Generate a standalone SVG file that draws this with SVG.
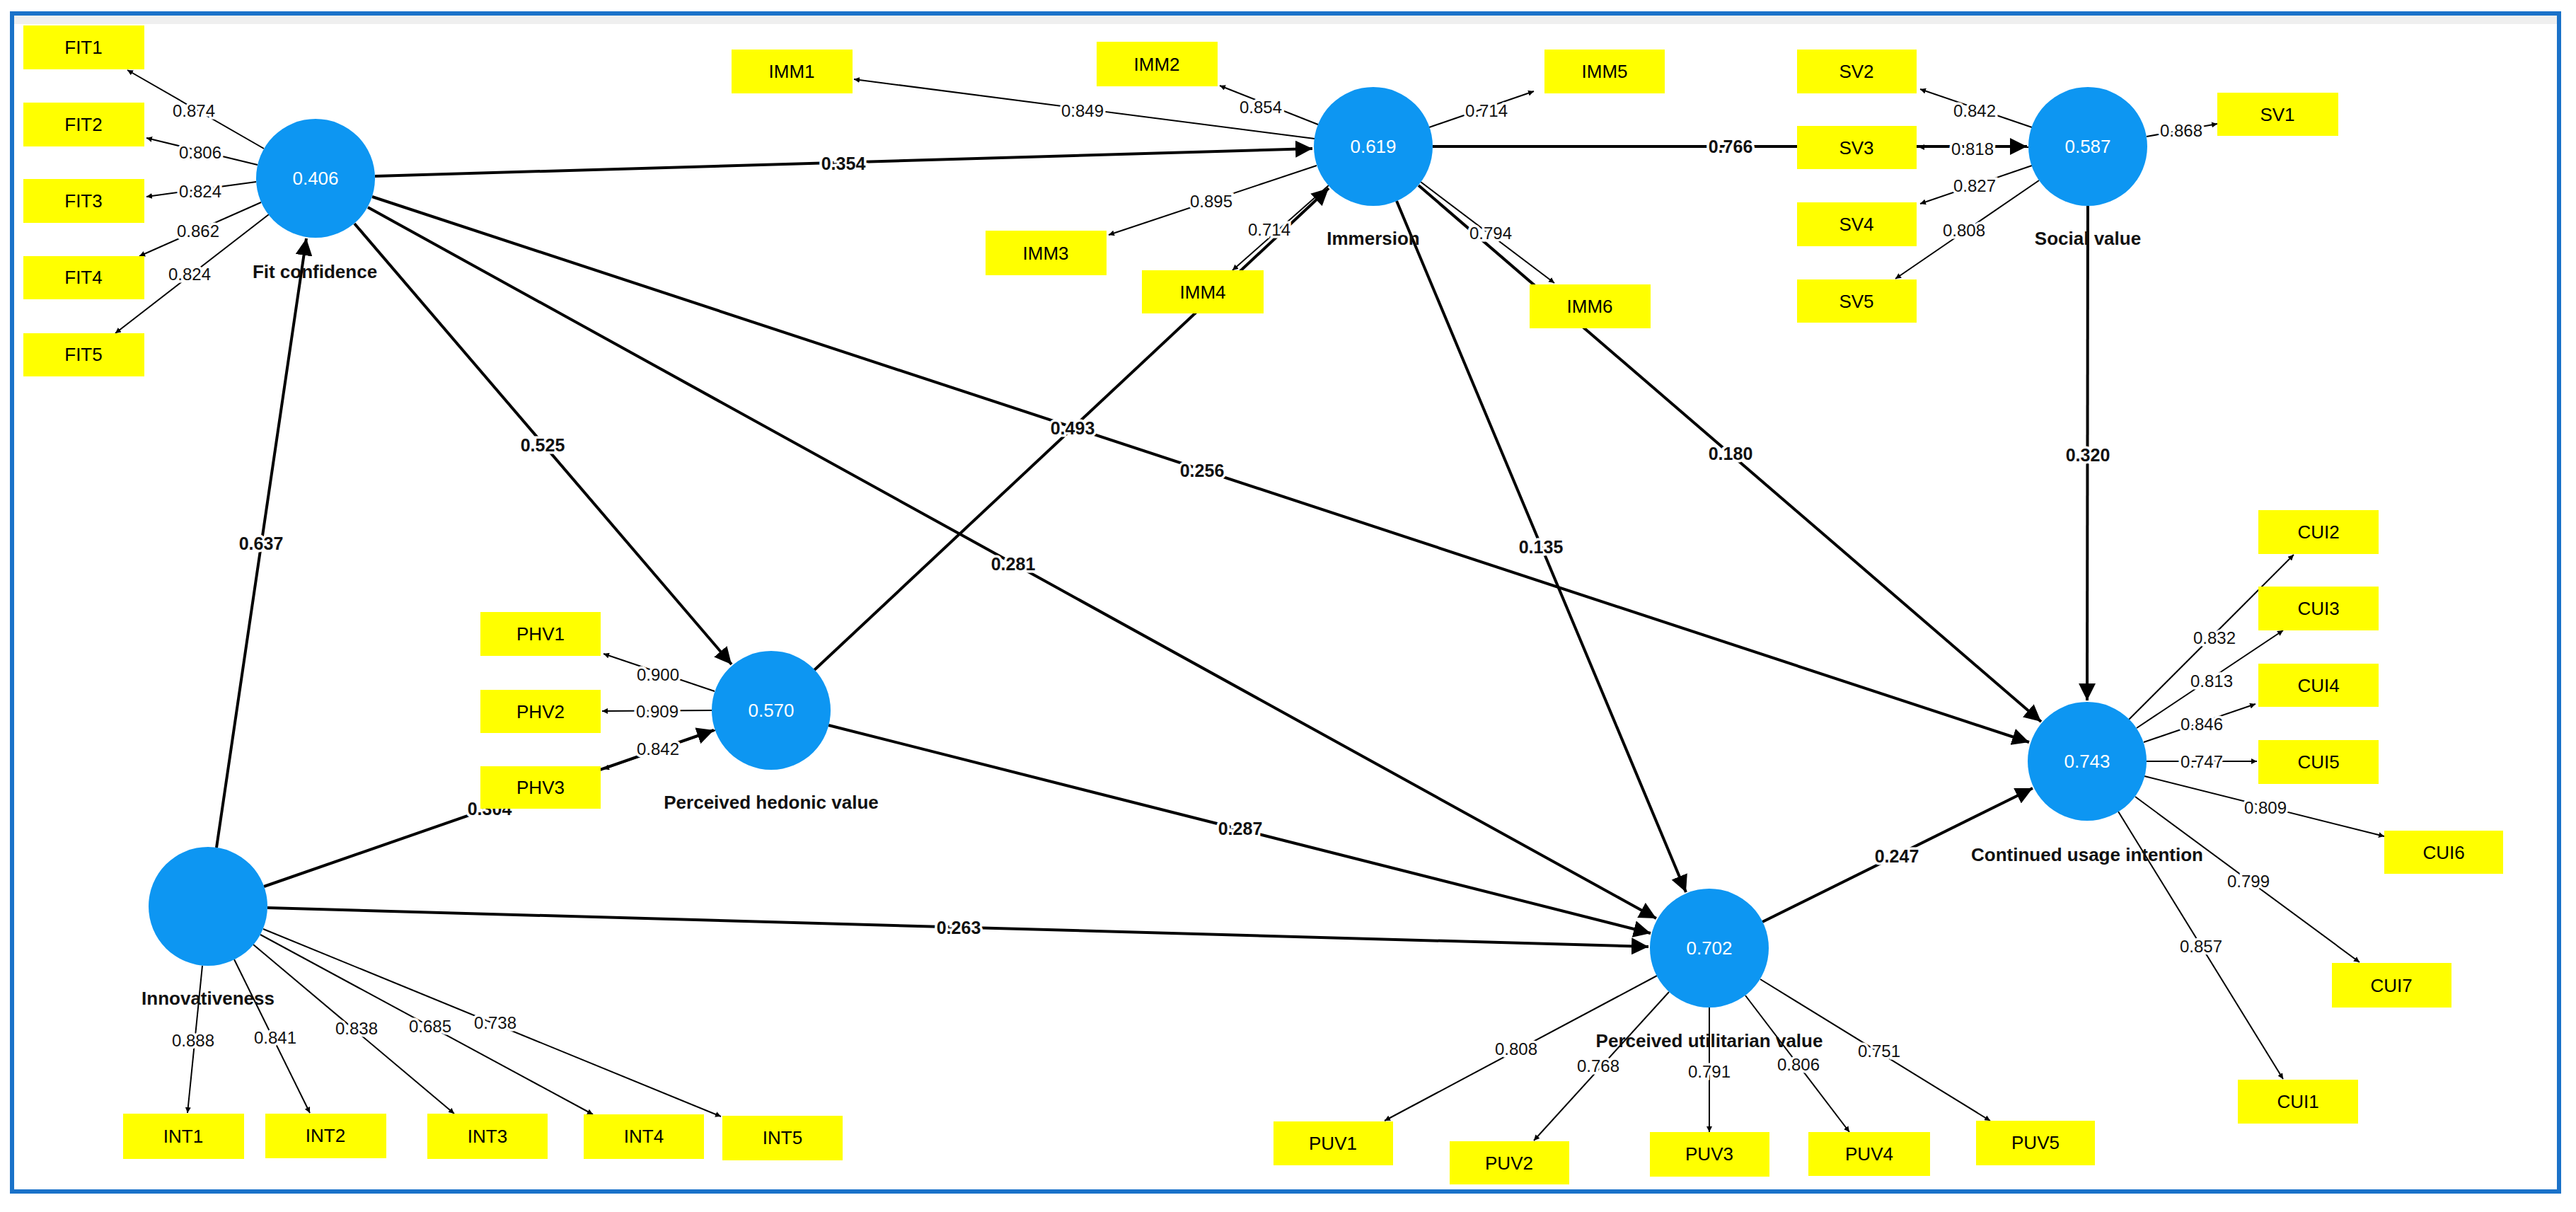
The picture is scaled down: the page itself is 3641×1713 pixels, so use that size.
<svg xmlns="http://www.w3.org/2000/svg" width="3641" height="1713" viewBox="0 0 3641 1713">
<style>
.bx{fill:#ffff00}
.bt{font-family:"Liberation Sans",Arial,sans-serif;font-size:26px;fill:#000;text-anchor:middle;dominant-baseline:central}
.cc{fill:#0d96f2}
.ct{font-family:"Liberation Sans",Arial,sans-serif;font-size:26px;fill:#fff;text-anchor:middle;dominant-baseline:central}
.nl{font-family:"Liberation Sans",Arial,sans-serif;font-size:26px;font-weight:bold;fill:#111;text-anchor:middle;dominant-baseline:central}
.ld{stroke:#000;stroke-width:2;fill:none;marker-end:url(#a)}
.st{stroke:#000;stroke-width:4;fill:none;marker-end:url(#b)}
.lv{font-family:"Liberation Sans",Arial,sans-serif;font-size:24px;fill:#111;text-anchor:middle;dominant-baseline:central;stroke:#fff;stroke-width:7;paint-order:stroke}
.sv{font-family:"Liberation Sans",Arial,sans-serif;font-size:25px;font-weight:bold;fill:#111;text-anchor:middle;dominant-baseline:central;stroke:#fff;stroke-width:7;paint-order:stroke}
</style>
<defs>
<marker id="a" viewBox="0 0 10 10" refX="10" refY="5" markerWidth="8" markerHeight="8" markerUnits="userSpaceOnUse" orient="auto"><path d="M0,0L10,5L0,10z"/></marker>
<marker id="b" viewBox="0 0 10 10" refX="10" refY="5" markerWidth="6" markerHeight="6" orient="auto"><path d="M0,0L10,5L0,10z"/></marker>
</defs>
<rect x="0" y="0" width="3641" height="1713" fill="#fff"/>
<rect x="17" y="19" width="3600" height="1665" fill="none" stroke="#1a72c9" stroke-width="6"/>
<rect x="20" y="22" width="3594" height="12" fill="#efefef"/>
<g id="connectors">
<line class="st" x1="306" y1="1198" x2="433" y2="337"/>
<line class="st" x1="373" y1="1253" x2="1009" y2="1032"/>
<line class="st" x1="378" y1="1283" x2="2330" y2="1338"/>
<line class="st" x1="530" y1="249" x2="1855" y2="210"/>
<line class="st" x1="501" y1="316" x2="1034" y2="939"/>
<line class="st" x1="520" y1="293" x2="2341" y2="1298"/>
<line class="st" x1="526" y1="278" x2="2868" y2="1049"/>
<line class="st" x1="1151" y1="947" x2="1878" y2="266"/>
<line class="st" x1="1171" y1="1025" x2="2333" y2="1319"/>
<line class="st" x1="2025" y1="207" x2="2865" y2="207"/>
<line class="st" x1="1974" y1="284" x2="2383" y2="1261"/>
<line class="st" x1="2005" y1="262" x2="2885" y2="1020"/>
<line class="st" x1="2951" y1="291" x2="2950" y2="990"/>
<line class="st" x1="2491" y1="1303" x2="2873" y2="1114"/>
<line class="ld" x1="373" y1="210" x2="180" y2="99"/>
<line class="ld" x1="364" y1="233" x2="207" y2="195"/>
<line class="ld" x1="362" y1="257" x2="207" y2="278"/>
<line class="ld" x1="369" y1="286" x2="197" y2="362"/>
<line class="ld" x1="380" y1="303" x2="163" y2="471"/>
<line class="ld" x1="1858" y1="196" x2="1207" y2="112"/>
<line class="ld" x1="1863" y1="176" x2="1724" y2="121"/>
<line class="ld" x1="1861" y1="234" x2="1567" y2="332"/>
<line class="ld" x1="1878" y1="262" x2="1742" y2="382"/>
<line class="ld" x1="2020" y1="180" x2="2168" y2="129"/>
<line class="ld" x1="2008" y1="257" x2="2197" y2="400"/>
<line class="ld" x1="2872" y1="180" x2="2714" y2="126"/>
<line class="ld" x1="2867" y1="208" x2="2712" y2="208"/>
<line class="ld" x1="2872" y1="234" x2="2714" y2="288"/>
<line class="ld" x1="2882" y1="255" x2="2679" y2="394"/>
<line class="ld" x1="3034" y1="193" x2="3134" y2="175"/>
<line class="ld" x1="1010" y1="977" x2="853" y2="924"/>
<line class="ld" x1="1006" y1="1004" x2="851" y2="1005"/>
<line class="ld" x1="1011" y1="1032" x2="853" y2="1087"/>
<line class="ld" x1="286" y1="1365" x2="265" y2="1573"/>
<line class="ld" x1="331" y1="1356" x2="438" y2="1573"/>
<line class="ld" x1="358" y1="1335" x2="642" y2="1574"/>
<line class="ld" x1="368" y1="1321" x2="838" y2="1575"/>
<line class="ld" x1="372" y1="1313" x2="1019" y2="1578"/>
<line class="ld" x1="2342" y1="1379" x2="1957" y2="1584"/>
<line class="ld" x1="2359" y1="1402" x2="2168" y2="1612"/>
<line class="ld" x1="2416" y1="1424" x2="2416" y2="1600"/>
<line class="ld" x1="2467" y1="1407" x2="2614" y2="1600"/>
<line class="ld" x1="2488" y1="1384" x2="2813" y2="1584"/>
<line class="ld" x1="3009" y1="1017" x2="3242" y2="784"/>
<line class="ld" x1="3020" y1="1029" x2="3227" y2="891"/>
<line class="ld" x1="3030" y1="1049" x2="3188" y2="995"/>
<line class="ld" x1="3034" y1="1076" x2="3190" y2="1076"/>
<line class="ld" x1="3031" y1="1097" x2="3370" y2="1182"/>
<line class="ld" x1="3018" y1="1126" x2="3335" y2="1360"/>
<line class="ld" x1="2994" y1="1147" x2="3227" y2="1525"/>
</g>
<g id="labels">
<text class="sv" x="369" y="768">0.637</text>
<text class="sv" x="692" y="1143">0.304</text>
<text class="sv" x="1355" y="1311">0.263</text>
<text class="sv" x="1192" y="231">0.354</text>
<text class="sv" x="767" y="629">0.525</text>
<text class="sv" x="1432" y="797">0.281</text>
<text class="sv" x="1699" y="665">0.256</text>
<text class="sv" x="1516" y="605">0.493</text>
<text class="sv" x="1753" y="1171">0.287</text>
<text class="sv" x="2446" y="207">0.766</text>
<text class="sv" x="2178" y="773">0.135</text>
<text class="sv" x="2446" y="641">0.180</text>
<text class="sv" x="2951" y="643">0.320</text>
<text class="sv" x="2681" y="1210">0.247</text>
<text class="lv" x="274" y="156">0.874</text>
<text class="lv" x="283" y="215">0.806</text>
<text class="lv" x="283" y="270">0.824</text>
<text class="lv" x="280" y="326">0.862</text>
<text class="lv" x="268" y="387">0.824</text>
<text class="lv" x="1530" y="156">0.849</text>
<text class="lv" x="1782" y="151">0.854</text>
<text class="lv" x="1712" y="284">0.895</text>
<text class="lv" x="1794" y="324">0.714</text>
<text class="lv" x="2101" y="156">0.714</text>
<text class="lv" x="2107" y="329">0.794</text>
<text class="lv" x="2791" y="156">0.842</text>
<text class="lv" x="2788" y="210">0.818</text>
<text class="lv" x="2791" y="262">0.827</text>
<text class="lv" x="2776" y="325">0.808</text>
<text class="lv" x="3083" y="184">0.868</text>
<text class="lv" x="930" y="953">0.900</text>
<text class="lv" x="929" y="1005">0.909</text>
<text class="lv" x="930" y="1058">0.842</text>
<text class="lv" x="273" y="1470">0.888</text>
<text class="lv" x="389" y="1466">0.841</text>
<text class="lv" x="504" y="1453">0.838</text>
<text class="lv" x="608" y="1450">0.685</text>
<text class="lv" x="700" y="1445">0.738</text>
<text class="lv" x="2143" y="1482">0.808</text>
<text class="lv" x="2259" y="1506">0.768</text>
<text class="lv" x="2416" y="1514">0.791</text>
<text class="lv" x="2542" y="1504">0.806</text>
<text class="lv" x="2656" y="1485">0.751</text>
<text class="lv" x="3130" y="901">0.832</text>
<text class="lv" x="3126" y="962">0.813</text>
<text class="lv" x="3112" y="1023">0.846</text>
<text class="lv" x="3112" y="1076">0.747</text>
<text class="lv" x="3202" y="1141">0.809</text>
<text class="lv" x="3178" y="1245">0.799</text>
<text class="lv" x="3111" y="1337">0.857</text>
</g>
<g id="FIT1"><rect class="bx" x="33" y="36" width="171" height="62"/><text class="bt" x="118" y="67">FIT1</text></g>
<g id="FIT2"><rect class="bx" x="33" y="145" width="171" height="62"/><text class="bt" x="118" y="176">FIT2</text></g>
<g id="FIT3"><rect class="bx" x="33" y="253" width="171" height="62"/><text class="bt" x="118" y="284">FIT3</text></g>
<g id="FIT4"><rect class="bx" x="33" y="362" width="171" height="61"/><text class="bt" x="118" y="392">FIT4</text></g>
<g id="FIT5"><rect class="bx" x="33" y="471" width="171" height="61"/><text class="bt" x="118" y="501">FIT5</text></g>
<g id="IMM1"><rect class="bx" x="1034" y="70" width="171" height="62"/><text class="bt" x="1119" y="101">IMM1</text></g>
<g id="IMM2"><rect class="bx" x="1550" y="59" width="171" height="63"/><text class="bt" x="1635" y="91">IMM2</text></g>
<g id="IMM3"><rect class="bx" x="1393" y="326" width="171" height="63"/><text class="bt" x="1478" y="358">IMM3</text></g>
<g id="IMM4"><rect class="bx" x="1614" y="382" width="172" height="61"/><text class="bt" x="1700" y="413">IMM4</text></g>
<g id="IMM5"><rect class="bx" x="2183" y="70" width="170" height="62"/><text class="bt" x="2268" y="101">IMM5</text></g>
<g id="IMM6"><rect class="bx" x="2162" y="402" width="171" height="62"/><text class="bt" x="2247" y="433">IMM6</text></g>
<g id="SV1"><rect class="bx" x="3134" y="131" width="171" height="61"/><text class="bt" x="3219" y="162">SV1</text></g>
<g id="SV2"><rect class="bx" x="2540" y="70" width="169" height="62"/><text class="bt" x="2624" y="101">SV2</text></g>
<g id="SV3"><rect class="bx" x="2540" y="178" width="169" height="61"/><text class="bt" x="2624" y="209">SV3</text></g>
<g id="SV4"><rect class="bx" x="2540" y="286" width="169" height="62"/><text class="bt" x="2624" y="317">SV4</text></g>
<g id="SV5"><rect class="bx" x="2540" y="395" width="169" height="61"/><text class="bt" x="2624" y="426">SV5</text></g>
<g id="PHV1"><rect class="bx" x="679" y="865" width="170" height="62"/><text class="bt" x="764" y="896">PHV1</text></g>
<g id="PHV2"><rect class="bx" x="679" y="975" width="170" height="61"/><text class="bt" x="764" y="1006">PHV2</text></g>
<g id="PHV3"><rect class="bx" x="679" y="1083" width="170" height="60"/><text class="bt" x="764" y="1113">PHV3</text></g>
<g id="INT1"><rect class="bx" x="174" y="1574" width="171" height="64"/><text class="bt" x="259" y="1606">INT1</text></g>
<g id="INT2"><rect class="bx" x="375" y="1574" width="171" height="63"/><text class="bt" x="460" y="1605">INT2</text></g>
<g id="INT3"><rect class="bx" x="604" y="1574" width="170" height="64"/><text class="bt" x="689" y="1606">INT3</text></g>
<g id="INT4"><rect class="bx" x="825" y="1575" width="170" height="63"/><text class="bt" x="910" y="1606">INT4</text></g>
<g id="INT5"><rect class="bx" x="1021" y="1577" width="170" height="63"/><text class="bt" x="1106" y="1608">INT5</text></g>
<g id="PUV1"><rect class="bx" x="1800" y="1585" width="169" height="62"/><text class="bt" x="1884" y="1616">PUV1</text></g>
<g id="PUV2"><rect class="bx" x="2049" y="1613" width="169" height="61"/><text class="bt" x="2133" y="1644">PUV2</text></g>
<g id="PUV3"><rect class="bx" x="2332" y="1600" width="169" height="63"/><text class="bt" x="2416" y="1631">PUV3</text></g>
<g id="PUV4"><rect class="bx" x="2556" y="1600" width="172" height="62"/><text class="bt" x="2642" y="1631">PUV4</text></g>
<g id="PUV5"><rect class="bx" x="2793" y="1584" width="168" height="63"/><text class="bt" x="2877" y="1615">PUV5</text></g>
<g id="CUI1"><rect class="bx" x="3163" y="1526" width="170" height="62"/><text class="bt" x="3248" y="1557">CUI1</text></g>
<g id="CUI2"><rect class="bx" x="3192" y="721" width="170" height="62"/><text class="bt" x="3277" y="752">CUI2</text></g>
<g id="CUI3"><rect class="bx" x="3192" y="829" width="170" height="62"/><text class="bt" x="3277" y="860">CUI3</text></g>
<g id="CUI4"><rect class="bx" x="3192" y="938" width="170" height="61"/><text class="bt" x="3277" y="969">CUI4</text></g>
<g id="CUI5"><rect class="bx" x="3192" y="1046" width="170" height="62"/><text class="bt" x="3277" y="1077">CUI5</text></g>
<g id="CUI6"><rect class="bx" x="3370" y="1174" width="168" height="61"/><text class="bt" x="3454" y="1205">CUI6</text></g>
<g id="CUI7"><rect class="bx" x="3296" y="1361" width="169" height="63"/><text class="bt" x="3380" y="1393">CUI7</text></g>
<g id="FitConfidence"><circle class="cc" cx="446" cy="252" r="84"/><text class="ct" x="446" y="252">0.406</text><text class="nl" x="445" y="384">Fit confidence</text></g>
<g id="Immersion"><circle class="cc" cx="1941" cy="207" r="84"/><text class="ct" x="1941" y="207">0.619</text><text class="nl" x="1941" y="337">Immersion</text></g>
<g id="SocialValue"><circle class="cc" cx="2951" cy="207" r="84"/><text class="ct" x="2951" y="207">0.587</text><text class="nl" x="2951" y="337">Social value</text></g>
<g id="PHV"><circle class="cc" cx="1090" cy="1004" r="84"/><text class="ct" x="1090" y="1004">0.570</text><text class="nl" x="1090" y="1134">Perceived hedonic value</text></g>
<g id="Innovativeness"><circle class="cc" cx="294" cy="1281" r="84"/><text class="nl" x="294" y="1411">Innovativeness</text></g>
<g id="PUV"><circle class="cc" cx="2416" cy="1340" r="84"/><text class="ct" x="2416" y="1340">0.702</text><text class="nl" x="2416" y="1471">Perceived utilitarian value</text></g>
<g id="CUI"><circle class="cc" cx="2950" cy="1076" r="84"/><text class="ct" x="2950" y="1076">0.743</text><text class="nl" x="2950" y="1208">Continued usage intention</text></g>
</svg>
